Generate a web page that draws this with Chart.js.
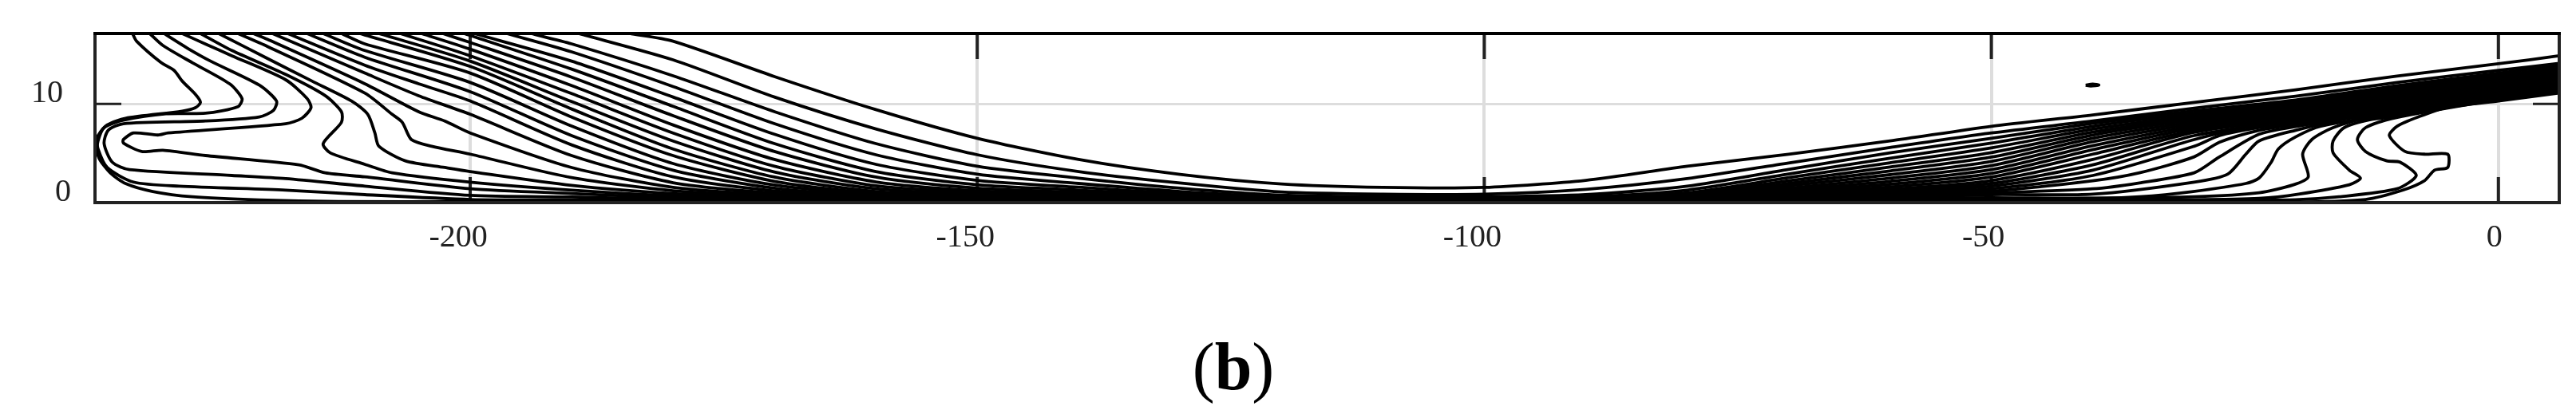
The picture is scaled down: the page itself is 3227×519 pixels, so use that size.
<!DOCTYPE html>
<html>
<head>
<meta charset="utf-8">
<title>Contour (b)</title>
<script src="https://cdn.jsdelivr.net/npm/chart.js@4"></script>
<style>
  html, body { margin: 0; padding: 0; background: #fff; }
  #wrap { position: relative; width: 3227px; height: 519px; overflow: hidden; }
  #caption {
    position: absolute; left: 1545px; top: 412px; transform: translateX(-50%);
    font: 84px/96px "Liberation Serif", serif; color: #000;
  }
  #caption b { font-weight: bold; }
</style>
</head>
<body>
<div id="wrap">
  <canvas id="chart" width="3227" height="519"></canvas>
  <div id="caption">(<b>b</b>)</div>
</div>
<script>
// axis ticks
const xTicks = [-200, -150, -100, -50, 0];
const yTicks = [0, 10];
// trailing spaces nudge the centred labels left of their ticks, as in the picture
const xLabels = ['-200   ', '-150   ', '-100   ', '-50  ', '0 '];
const yLabels = ['0', '10 '];

// contour lines as [x, y]
const line01 = [[-184.3,17.14],[-180,16.36],[-170,12.78],[-160,9.43],[-150,6.52],[-140,4.37],[-130,2.86],[-120,1.89],[-110,1.54],[-100,1.54],[-90,2.26],[-80,3.69],[-70,4.91],[-60,6.25],[-50,7.74],[-40,8.89],[-30,10.16],[-20,11.43],[-10,12.83],[0,14.07],[6,14.88]];
const line02 = [[-189.3,17.14],[-180,14.47],[-170,10.7],[-160,7.47],[-150,4.85],[-140,3.15],[-130,1.99],[-120,1.08],[-110,0.86],[-100,0.86],[-90,1.35],[-80,2.43],[-70,4.02],[-60,5.58],[-50,7.06],[-40,8.27],[-30,9.57],[-20,10.78],[-10,12.18],[0,13.4],[6,14.12]];
const line03 = [[-194,17.14],[-190,16.09],[-180,12.86],[-170,9.22],[-160,5.98],[-150,3.69],[-140,2.48],[-130,1.46],[-120,0.75],[-110,0.59],[-100,0.59],[-90,0.81],[-80,1.67],[-70,3.37],[-60,5.04],[-50,6.52],[-40,8.03],[-30,9.3],[-20,10.4],[-10,11.86],[0,13.13],[6,13.88]];
const line04 = [[-196.4,17.14],[-190,15.28],[-180,11.77],[-170,8],[-160,4.85],[-150,2.88],[-140,1.94],[-130,1.13],[-120,0.59],[-110,0.49],[-100,0.49],[-90,0.59],[-80,1.27],[-70,2.91],[-60,4.5],[-50,6.04],[-40,7.74],[-30,9.06],[-20,10.19],[-10,11.64],[0,12.91],[6,13.64]];
const line05 = [[-199.6,17.14],[-190,14.34],[-180,10.7],[-170,6.93],[-160,3.88],[-150,2.26],[-140,1.56],[-130,0.92],[-120,0.51],[-110,0.43],[-100,0.43],[-90,0.49],[-80,1],[-70,2.53],[-60,4.04],[-50,5.55],[-40,7.44],[-30,8.84],[-20,10],[-10,11.48],[0,12.78],[6,13.5]];
const line06 = [[-200.6,17.14],[-190,13.53],[-180,9.76],[-170,5.98],[-160,3.15],[-150,1.81],[-140,1.27],[-130,0.75],[-120,0.46],[-110,0.4],[-100,0.4],[-90,0.43],[-80,0.84],[-70,2.21],[-60,3.61],[-50,5.07],[-40,7.14],[-30,8.63],[-20,9.81],[-10,11.32],[0,12.64],[6,13.37]];
const line07 = [[-202.7,17.14],[-200,16.23],[-190,12.72],[-180,8.81],[-170,5.18],[-160,2.59],[-150,1.46],[-140,1.05],[-130,0.65],[-120,0.4],[-110,0.38],[-100,0.38],[-90,0.38],[-80,0.7],[-70,1.94],[-60,3.21],[-50,4.61],[-40,6.85],[-30,8.41],[-20,9.62],[-10,11.16],[0,12.51],[6,13.26]];
const line08 = [[-204.8,17.14],[-200,15.55],[-190,11.86],[-180,7.87],[-170,4.37],[-160,2.1],[-150,1.21],[-140,0.89],[-130,0.57],[-120,0.38],[-110,0.35],[-100,0.35],[-90,0.35],[-80,0.59],[-70,1.7],[-60,2.83],[-50,4.18],[-40,6.52],[-30,8.19],[-20,9.43],[-10,11],[0,12.37],[6,13.13]];
const line09 = [[-206.9,17.14],[-200,14.88],[-190,11.05],[-180,7.06],[-170,3.69],[-160,1.7],[-150,1.02],[-140,0.75],[-130,0.49],[-120,0.35],[-110,0.32],[-100,0.32],[-90,0.32],[-80,0.51],[-70,1.48],[-60,2.48],[-50,3.75],[-40,6.17],[-30,7.98],[-20,9.24],[-10,10.84],[0,12.26],[6,13]];
const line10 = [[-209,17.14],[-200,14.34],[-190,10.24],[-180,6.25],[-170,3.1],[-160,1.4],[-150,0.86],[-140,0.65],[-130,0.43],[-120,0.32],[-110,0.3],[-100,0.3],[-90,0.3],[-80,0.46],[-70,1.29],[-60,2.16],[-50,3.34],[-40,5.77],[-30,7.76],[-20,9.06],[-10,10.67],[0,12.13],[6,12.88]];
const line11 = [[-210.9,17.14],[-200,13.8],[-190,9.49],[-180,5.44],[-170,2.59],[-160,1.13],[-150,0.73],[-140,0.57],[-130,0.38],[-120,0.3],[-110,0.27],[-100,0.27],[-90,0.27],[-80,0.4],[-70,1.13],[-60,1.86],[-50,2.96],[-40,5.36],[-30,7.55],[-20,8.89],[-10,10.51],[0,11.99],[6,12.75]];
const line12 = [[-212.7,17.14],[-210.4,16.09],[-200,13.13],[-190,8.68],[-180,4.77],[-170,2.16],[-160,0.94],[-150,0.62],[-140,0.49],[-130,0.35],[-120,0.27],[-110,0.24],[-100,0.24],[-90,0.24],[-80,0.35],[-70,1],[-60,1.59],[-50,2.59],[-40,4.91],[-30,7.33],[-20,8.73],[-10,10.35],[0,11.86],[6,12.61]];
const line13 = [[-214.5,17.14],[-210.4,15.42],[-200,12.18],[-190,7.76],[-180,3.96],[-170,1.78],[-160,0.81],[-150,0.54],[-140,0.43],[-130,0.32],[-120,0.27],[-110,0.22],[-100,0.22],[-90,0.22],[-80,0.32],[-70,0.86],[-60,1.35],[-50,2.24],[-40,4.37],[-30,7.12],[-20,8.57],[-10,10.19],[0,11.73],[6,12.51]];
const line14 = [[-216.1,17.14],[-210.4,14.74],[-200,11.24],[-190,6.79],[-180,3.29],[-170,1.46],[-160,0.67],[-150,0.46],[-140,0.38],[-130,0.3],[-120,0.24],[-110,0.19],[-100,0.19],[-90,0.19],[-80,0.3],[-70,0.75],[-60,1.16],[-50,1.94],[-40,3.83],[-30,6.79],[-20,8.41],[-10,10.03],[0,11.59],[6,12.37]];
const line15 = [[-218,17.14],[-210.4,13.93],[-205.1,12.05],[-200,10.3],[-190,5.85],[-180,2.61],[-170,1.19],[-160,0.57],[-150,0.4],[-140,0.32],[-130,0.27],[-120,0.22],[-110,0.16],[-100,0.16],[-90,0.16],[-80,0.27],[-70,0.65],[-60,1],[-50,1.67],[-40,3.29],[-30,6.39],[-23.6,7.87],[-20,8.25],[-10,9.87],[0,11.48],[6,12.24]];
const line16 = [[-219.5,17.14],[-210.4,13.13],[-205.1,10.84],[-200,8.95],[-190,4.77],[-180,2.02],[-170,0.97],[-160,0.49],[-150,0.35],[-140,0.3],[-130,0.24],[-120,0.22],[-110,0.13],[-100,0.13],[-90,0.13],[-80,0.24],[-70,0.57],[-60,0.86],[-50,1.4],[-40,2.75],[-30,5.71],[-27.5,6.79],[-23.6,7.6],[-20,8.09],[-10,9.7],[0,11.35],[6,12.13]];
const line17 = [[-221.4,17.14],[-220,16.55],[-210.4,12.05],[-205.1,9.22],[-202.5,8.27],[-200,7.06],[-190,3.56],[-180,1.54],[-170,0.78],[-160,0.4],[-150,0.3],[-140,0.27],[-130,0.22],[-120,0.19],[-110,0.11],[-100,0.11],[-90,0.11],[-80,0.22],[-70,0.49],[-60,0.73],[-50,1.16],[-40,2.21],[-35.4,3.02],[-30,4.64],[-27.5,6.12],[-23.6,7.33],[-20,7.92],[-10,9.54],[0,11.21],[6,11.99]];
const line18 = [[-222.9,17.14],[-220,15.83],[-210.4,11.11],[-207.7,8.95],[-206.7,8.14],[-205.8,6.39],[-203.8,5.71],[-200,4.91],[-190,2.53],[-180,1.21],[-170,0.65],[-160,0.35],[-150,0.27],[-140,0.24],[-130,0.19],[-120,0.16],[-110,0.08],[-100,0.08],[-90,0.08],[-80,0.19],[-70,0.4],[-60,0.62],[-50,0.97],[-40,1.4],[-35.4,2],[-30,3.02],[-27.5,4.64],[-23.6,6.93],[-20,7.71],[-10,9.38],[0,11.08],[6,11.86]];
const line19 = [[-224.8,17.14],[-220,14.61],[-215.6,12.32],[-211.7,10.3],[-210.1,8.95],[-209.4,7.06],[-209,5.71],[-206.4,4.23],[-202.5,3.56],[-200,3.15],[-190,1.75],[-180,0.92],[-170,0.54],[-160,0.3],[-150,0.22],[-140,0.19],[-130,0.16],[-120,0.16],[-110,0.08],[-100,0.08],[-90,0.08],[-80,0.16],[-70,0.35],[-60,0.51],[-50,0.81],[-40,0.86],[-30,2.08],[-26.7,2.88],[-24.9,4.91],[-23.6,6.25],[-20,7.33],[-15,8.5],[-10,9.22],[0,10.94],[6,11.75]];
const line20 = [[-226.6,17.14],[-223.5,15.42],[-218.2,12.99],[-214.3,10.84],[-212.7,9.22],[-212.7,8.14],[-214.5,5.98],[-213.8,5.04],[-210.4,3.88],[-207.7,3.02],[-200,2.08],[-190,1.27],[-180,0.7],[-170,0.43],[-160,0.24],[-150,0.19],[-140,0.16],[-130,0.13],[-120,0.13],[-110,0.05],[-100,0.05],[-90,0.05],[-80,0.13],[-70,0.3],[-60,0.43],[-50,0.5],[-40,0.43],[-35.4,0.59],[-30.1,1.13],[-24.9,1.94],[-23.6,2.48],[-22.4,4.1],[-21.7,5.44],[-20,6.66],[-17.5,7.74],[-10,9.06],[0,10.81],[6,11.64]];
const line21 = [[-228.4,17.14],[-226.1,16.07],[-223.5,14.88],[-218.2,12.45],[-216.1,10.57],[-215.7,9.62],[-216.6,8.55],[-218.2,8],[-229.8,7.06],[-230.8,6.85],[-233.2,7.06],[-234.2,6.39],[-234.2,6.04],[-232.4,5.18],[-230.3,5.31],[-226.1,4.77],[-216.9,3.83],[-214.3,3.02],[-210.4,2.61],[-200,1.4],[-190,0.92],[-180,0.51],[-170,0.32],[-160,0.19],[-150,0.16],[-140,0.13],[-130,0.11],[-120,0.11],[-110,0.05],[-100,0.05],[-90,0.05],[-80,0.11],[-70,0.24],[-60,0.35],[-50,0.4],[-40,0.45],[-30,0.59],[-23.6,1],[-20.2,1.81],[-18.75,2.61],[-19.3,4.91],[-18.4,6.39],[-16.3,7.6],[-13,8.55],[-10,8.89],[0,10.7],[6,11.48]];
const line22 = [[-230.2,17.14],[-227.9,15.66],[-225.6,14.34],[-220.8,11.91],[-219.1,10.3],[-219.4,9.35],[-220.8,8.68],[-226.1,8.27],[-234.2,8],[-235.7,7.33],[-236.1,5.98],[-235.3,4.1],[-233.6,3.34],[-223.5,2.75],[-218.2,2.43],[-210.4,1.67],[-200,0.73],[-190,0.57],[-180,0.35],[-170,0.24],[-160,0.13],[-150,0.13],[-140,0.11],[-130,0.08],[-120,0.08],[-110,0.05],[-100,0.05],[-90,0.05],[-80,0.08],[-70,0.19],[-60,0.27],[-50,0.3],[-40,0.3],[-30,0.3],[-23.6,0.43],[-19.7,0.86],[-14.7,1.81],[-13.6,2.48],[-14.7,3.29],[-16.3,5.04],[-16.3,6.25],[-15.2,7.6],[-12.6,8.41],[-10,8.73],[0,10.57],[6,11.37]];
const line23 = [[-231.6,17.14],[-230.3,15.93],[-227.4,14.18],[-223.7,12.02],[-222.5,10.54],[-222.9,9.73],[-226.1,9.06],[-230,9],[-234.2,8.35],[-236.1,7.6],[-236.7,6.25],[-236.7,5.44],[-235.8,3.56],[-233.2,2.08],[-228.7,1.67],[-218.2,1.27],[-210.4,0.81],[-200,0.32],[-190,0.27],[-180,0.22],[-170,0.16],[-160,0.11],[-150,0.08],[-140,0.08],[-130,0.05],[-100,0.05],[-80,0.05],[-70,0.13],[-60,0.19],[-50,0.19],[-40,0.16],[-30,0.19],[-20,0.3],[-15.7,0.59],[-10,1.4],[-8.1,2.75],[-9.7,4.1],[-11,4.23],[-13.1,5.18],[-13.9,6.39],[-13.1,7.6],[-10.5,8.52],[0,10.43],[6,11.24]];
const line24 = [[-233.3,17.14],[-232.9,16.36],[-230.5,14.2],[-229.2,13.4],[-228.4,12.32],[-227.1,10.97],[-226.6,10.16],[-227.1,9.62],[-228.4,9.27],[-234,8.55],[-235.8,7.87],[-236.7,6.79],[-236.9,5.98],[-236.6,4.5],[-235.5,3.02],[-234,1.94],[-231.3,1.13],[-227.4,0.59],[-220.8,0.27],[-213,0.11],[-200,0.08],[-170,0.05],[-100,0.05],[-70,0.05],[-50,0.08],[-30,0.08],[-20,0.05],[-13.1,0.32],[-9.4,1.27],[-7.3,2.21],[-6.3,3.29],[-5,3.56],[-5,4.91],[-7.3,4.91],[-9.2,5.18],[-10.75,6.79],[-10,7.73],[-7.9,8.68],[-5.2,9.62],[0,10.3],[6,11.1]];
// the small island above the band near x = -40
const island = [[-40.7,11.9],[-40,12.02],[-39.4,11.92],[-40.2,11.82],[-40.7,11.9]];

const contours = [line01, line02, line03, line04, line05, line06, line07, line08,
  line09, line10, line11, line12, line13, line14, line15, line16, line17, line18,
  line19, line20, line21, line22, line23, line24, island];

// frame and the short inner tick marks, these are not something the scales draw
const frameTicks = {
  id: 'frameTicks',
  beforeDatasetsDraw(chart) {
    const { ctx, chartArea: a, scales } = chart;
    ctx.save();
    ctx.strokeStyle = '#222';
    ctx.lineWidth = 4;
    xTicks.forEach(v => {
      const x = scales.x.getPixelForValue(v);
      ctx.beginPath();
      ctx.moveTo(x, a.top); ctx.lineTo(x, a.top + 32);
      ctx.moveTo(x, a.bottom); ctx.lineTo(x, a.bottom - 32);
      ctx.stroke();
    });
    ctx.lineWidth = 3;
    yTicks.forEach(v => {
      const y = scales.y.getPixelForValue(v);
      ctx.beginPath();
      ctx.moveTo(a.left, y); ctx.lineTo(a.left + 33, y);
      ctx.moveTo(a.right, y); ctx.lineTo(a.right - 33, y);
      ctx.stroke();
    });
    ctx.restore();
  },
  afterDatasetsDraw(chart) {
    const { ctx, chartArea: a } = chart;
    ctx.save();
    ctx.lineWidth = 4;
    ctx.strokeStyle = '#222';
    ctx.beginPath();
    ctx.moveTo(a.left, a.top); ctx.lineTo(a.left, a.bottom);
    ctx.lineTo(a.right, a.bottom); ctx.lineTo(a.right, a.top);
    ctx.stroke();
    ctx.strokeStyle = '#000';
    ctx.beginPath();
    ctx.moveTo(a.left - 2, a.top); ctx.lineTo(a.right + 2, a.top);
    ctx.stroke();
    ctx.restore();
  }
};

const tickFont = { family: '"Liberation Serif", serif', size: 40 };

new Chart(document.getElementById('chart'), {
  type: 'scatter',
  plugins: [frameTicks],
  data: {
    datasets: contours.map(pts => ({
      data: pts,
      showLine: true,
      borderColor: '#000',
      borderWidth: 3.8,
      borderJoinStyle: 'round',
      tension: 0.25,
      pointRadius: 0
    }))
  },
  options: {
    responsive: false,
    animation: false,
    layout: { padding: { top: 42, right: 21, left: 0, bottom: 0 } },
    plugins: { legend: { display: false }, tooltip: { enabled: false } },
    scales: {
      x: {
        type: 'linear',
        min: -237,
        max: 6,
        afterBuildTicks: s => { s.ticks = xTicks.map(value => ({ value })); },
        afterFit: s => { s.height = 265; s.paddingLeft = 0; s.paddingRight = 0; },
        border: { display: false },
        grid: { color: '#ddd', lineWidth: 4, drawTicks: false },
        ticks: {
          autoSkip: false,
          maxRotation: 0,
          padding: 20,
          color: '#222',
          font: tickFont,
          callback: v => xLabels[xTicks.indexOf(v)]
        }
      },
      y: {
        type: 'linear',
        min: 0,
        max: 17.14,
        afterBuildTicks: s => { s.ticks = yTicks.map(value => ({ value })); },
        afterFit: s => { s.width = 119; s.paddingTop = 0; s.paddingBottom = 0; },
        border: { display: false },
        grid: { color: '#ddd', lineWidth: 3, drawTicks: false },
        ticks: {
          padding: 30,
          labelOffset: -13,
          color: '#222',
          font: tickFont,
          callback: v => yLabels[yTicks.indexOf(v)]
        }
      }
    }
  }
});
</script>
</body>
</html>
